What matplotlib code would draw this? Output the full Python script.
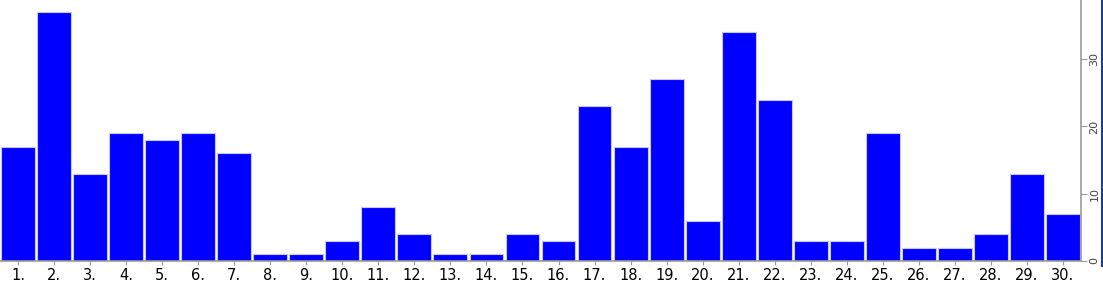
import matplotlib

matplotlib.use("Agg")
import matplotlib.pyplot as plt
from matplotlib.lines import Line2D

# Chart values
labels = [f"{i}." for i in range(1, 31)]
values = [17, 37, 13, 19, 18, 19, 16, 1, 1, 3,
          8, 4, 1, 1, 4, 3, 23, 17, 27, 6,
          34, 24, 3, 3, 19, 2, 2, 4, 13, 7]
y_ticks = [0, 10, 20, 30]

W, H = 1103, 303
fig = plt.figure(figsize=(W / 100, H / 100), dpi=100)
ax = fig.add_axes([0, (H - 261) / H, 1081 / W, 261 / H])

x = list(range(1, len(values) + 1))
ax.bar(x, values, width=0.94, color="#0000ff", edgecolor="#c8c8ff", linewidth=0.8)

ax.set_xlim(0.5, len(values) + 0.5)
ax.set_ylim(0, 38.8)
ax.set_xticks(x)
ax.set_xticklabels(labels, fontsize=10.5)
ax.tick_params(axis="x", length=3, color="#999999", pad=2)

ax.yaxis.tick_right()
ax.set_yticks(y_ticks)
ax.set_yticklabels([str(t) for t in y_ticks], rotation=90, va="center",
                   fontsize=8, color="#444444")
ax.tick_params(axis="y", length=4, color="#999999", pad=2)

for side in ("top", "left"):
    ax.spines[side].set_visible(False)
for side in ("right", "bottom"):
    ax.spines[side].set_color("#999999")
    ax.spines[side].set_linewidth(1.2)

# thin dark blue edge line at the far right
fig.add_artist(Line2D([1101.5 / W, 1101.5 / W], [1 - 266 / H, 1], color="#1a3f8f",
                      linewidth=1.5, transform=fig.transFigure))

fig.savefig("out.png", dpi=100)
